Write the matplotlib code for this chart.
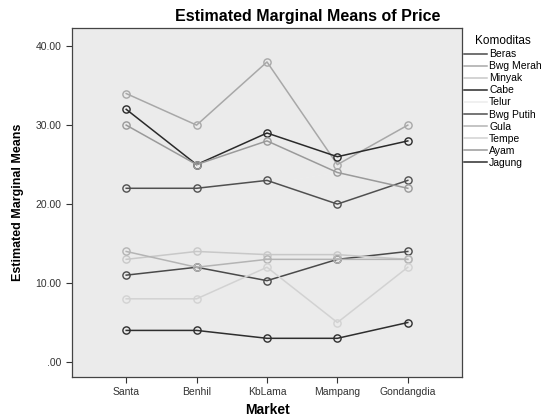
import numpy as np
import matplotlib.pyplot as plt
from matplotlib.ticker import FuncFormatter

plt.rcParams['font.family'] = ['Liberation Sans', 'DejaVu Sans']

# Data
markets = ['Santa', 'Benhil', 'KbLama', 'Mampang', 'Gondangdia']
komoditas = ['Beras', 'Bwg Merah', 'Minyak', 'Cabe', 'Telur',
             'Bwg Putih', 'Gula', 'Tempe', 'Ayam', 'Jagung']

beras = [11, 12, 10.3, 13, 14]
bwg_merah = [34, 30, 38, 25, 30]
minyak = [13, 14, 13.6, 13.6, 13]
cabe = [32, 25, 29, 26, 28]
telur = [22, 22, 22.5, 24, 22]
bwg_putih = [22, 22, 23, 20, 23]
gula = [14, 12, 13, 13, 13]
tempe = [8, 8, 12, 5, 12]
ayam = [30, 25, 28, 24, 22]
jagung = [4, 4, 3, 3, 5]

series = [beras, bwg_merah, minyak, cabe, telur,
          bwg_putih, gula, tempe, ayam, jagung]
colors = ['#4a4a4a', '#a8a8a8', '#c8c8c8', '#2a2a2a', '#ececec',
          '#505050', '#b4b4b4', '#d2d2d2', '#9a9a9a', '#2e2e2e']

fig = plt.figure(figsize=(5.47, 4.19), dpi=100)
ax = fig.add_axes([72/547, 1-377/419, 390/547, 349/419])
ax.set_facecolor('#ebebeb')

x = np.arange(len(markets))
for vals, name, c in zip(series, komoditas, colors):
    ax.plot(x, vals, color=c, lw=1.1, marker='o', ms=5.2,
            mfc='none', mec=c, mew=1.0, label=name)

ax.set_xlim(-0.77, 4.77)
ax.set_ylim(-1.9, 42.3)
ax.set_yticks([0, 10, 20, 30, 40])
ax.yaxis.set_major_formatter(FuncFormatter(lambda v, p: '.00' if v == 0 else f'{v:.2f}'))
ax.set_xticks(x)
ax.set_xticklabels(markets)
ax.tick_params(axis='both', direction='out', length=4, width=0.8,
               labelsize=7.5, colors='#333333')
for s in ax.spines.values():
    s.set_color('#444444')
    s.set_linewidth(0.9)

ax.set_xlabel('Market', fontsize=10, fontweight='bold', labelpad=4)
ax.set_ylabel('Estimated Marginal Means', fontsize=9, fontweight='bold', labelpad=8)
fig.text(308/547, 1-16/419, 'Estimated Marginal Means of Price',
         ha='center', va='center', fontsize=11.5, fontweight='bold')

leg = fig.legend(loc='upper left', bbox_to_anchor=(462/547, 1-33/419),
                 frameon=False, fontsize=7.5, title='Komoditas', title_fontsize=8.5,
                 handlelength=2.2, handletextpad=0.2, labelspacing=0.2,
                 borderaxespad=0, borderpad=0.2)
for h in leg.legend_handles:
    h.set_marker('')

fig.savefig('out.png', dpi=100)
